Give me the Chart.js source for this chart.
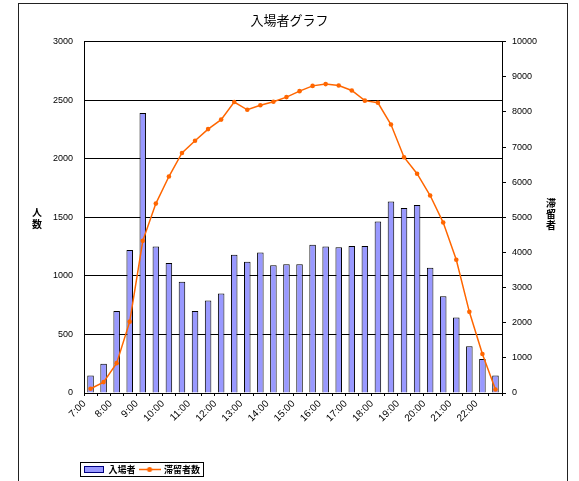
<!DOCTYPE html>
<html>
<head>
<meta charset="utf-8">
<script src="https://cdn.jsdelivr.net/npm/chart.js@4"></script>
<style>
  body { margin: 0; background: #fff; }
  #wrap { width: 579px; height: 481px; }
</style>
</head>
<body>
<div id="wrap"><canvas id="chart" width="579" height="481"></canvas></div>
<script>
// half-hour slots 7:00 .. 22:30
const timeLabels = ['7:00','7:30','8:00','8:30','9:00','9:30','10:00','10:30','11:00','11:30',
  '12:00','12:30','13:00','13:30','14:00','14:30','15:00','15:30','16:00','16:30',
  '17:00','17:30','18:00','18:30','19:00','19:30','20:00','20:30','21:00','21:30','22:00','22:30'];
const visitors = [150, 250, 700, 1220, 2390, 1250, 1110, 950, 700, 790,
  850, 1180, 1120, 1200, 1090, 1100, 1100, 1265, 1250, 1245,
  1255, 1255, 1465, 1635, 1580, 1605, 1070, 825, 645, 400, 290, 150];
const staying = [120, 310, 850, 2030, 4330, 5390, 6160, 6830, 7180, 7510,
  7780, 8280, 8060, 8190, 8290, 8420, 8590, 8740, 8790, 8750,
  8610, 8320, 8260, 7640, 6710, 6240, 5620, 4850, 3790, 2310, 1110, 100];
const leftTitle = ['人', '数'];
const rightTitle = ['滞', '留', '者'];

const numFont = { family: '"Liberation Sans", Arial, sans-serif', size: 9 };
const jpFont = '"Noto Sans CJK JP", sans-serif';

function makeIcon(w, h, draw) {
  const c = document.createElement('canvas');
  c.width = w; c.height = h;
  draw(c.getContext('2d'));
  return c;
}
const barIcon = makeIcon(20, 7, g => {
  g.fillStyle = '#9999ff'; g.fillRect(0.5, 0.5, 19, 6);
  g.strokeStyle = '#000080'; g.lineWidth = 1; g.strokeRect(0.5, 0.5, 19, 6);
});
const lineIcon = makeIcon(22, 7, g => {
  g.strokeStyle = '#ff6600'; g.lineWidth = 1.5;
  g.beginPath(); g.moveTo(0, 3.5); g.lineTo(22, 3.5); g.stroke();
  g.fillStyle = '#ff6600';
  g.beginPath(); g.arc(11, 3.5, 2.5, 0, Math.PI * 2); g.fill();
});

const extras = {
  id: 'extras',
  beforeDraw(chart) {
    const c = chart.ctx;
    c.save();
    c.fillStyle = '#fff';
    c.fillRect(0, 0, chart.width, chart.height);
    c.strokeStyle = '#222';
    c.lineWidth = 1;
    c.strokeRect(18.5, 3.5, 549, 500);
    c.restore();
  },
  afterLayout(chart) {
    const lg = chart.legend;
    const w = lg.right - lg.left;
    lg.left = 80;
    lg.right = 80 + w;
    lg.top += 3;
    lg.bottom += 3;
  },
  afterDraw(chart) {
    const c = chart.ctx;
    c.save();
    c.font = 'bold 10px ' + jpFont;
    c.fillStyle = '#000';
    c.textAlign = 'center';
    c.textBaseline = 'middle';
    leftTitle.forEach((ch, i) => c.fillText(ch, 37, 212 + i * 12));
    rightTitle.forEach((ch, i) => c.fillText(ch, 551, 203 + i * 11));
    const boxes = chart.legend.legendHitBoxes;
    if (boxes && boxes.length) {
      const first = boxes[0], last = boxes[boxes.length - 1];
      const x0 = Math.round(first.left) - 3.5;
      const x1 = Math.round(last.left + last.width) + 3.5;
      const y0 = Math.round(first.top) - 2.5;
      const y1 = Math.round(first.top + first.height) + 2.5;
      c.strokeStyle = '#000';
      c.strokeRect(x0, y0, x1 - x0, y1 - y0);
    }
    c.restore();
  }
};

new Chart(document.getElementById('chart').getContext('2d'), {
  type: 'bar',
  data: {
    labels: timeLabels,
    datasets: [{
      type: 'bar',
      label: '入場者',
      data: visitors,
      backgroundColor: '#9999ff',
      borderColor: '#000',
      borderWidth: 1,
      barPercentage: 0.5,
      categoryPercentage: 1,
      yAxisID: 'y',
      order: 1
    }, {
      type: 'line',
      label: '滞留者数',
      data: staying,
      borderColor: '#ff6600',
      borderWidth: 1.5,
      pointRadius: 2.3,
      pointBackgroundColor: '#ff6600',
      pointBorderWidth: 0,
      tension: 0,
      yAxisID: 'y1',
      order: 0
    }]
  },
  options: {
    responsive: false,
    animation: false,
    events: [],
    layout: { padding: { left: 0, right: 0, top: 0, bottom: 0 } },
    plugins: {
      tooltip: { enabled: false },
      title: {
        display: true,
        text: '入場者グラフ',
        color: '#000',
        font: { family: jpFont, size: 13, weight: 'normal' },
        padding: { top: 12, bottom: 14 }
      },
      legend: {
        position: 'bottom',
        align: 'start',
        labels: {
          color: '#000',
          font: { family: jpFont, size: 9, weight: 'bold' },
          usePointStyle: true,
          pointStyleWidth: 20,
          boxHeight: 7,
          padding: 4,
          sort: (a, b) => a.datasetIndex - b.datasetIndex,
          generateLabels(chart) {
            const items = Chart.defaults.plugins.legend.labels.generateLabels(chart);
            items.forEach(it => { it.pointStyle = it.datasetIndex === 0 ? barIcon : lineIcon; });
            return items;
          }
        }
      }
    },
    scales: {
      x: {
        offset: true,
        grid: { drawOnChartArea: false, tickLength: 3, color: '#000', offset: true },
        border: { color: '#000' },
        ticks: {
          autoSkip: false,
          maxRotation: 45,
          minRotation: 45,
          color: '#000',
          font: { family: numFont.family, size: 10 },
          padding: 2,
          labelOffset: -6,
          callback: (v, i) => (i % 2 === 0 ? timeLabels[i] : '')
        },
        afterFit: s => { s.height = 65; }
      },
      y: {
        position: 'left',
        min: 0,
        max: 3000,
        ticks: { stepSize: 500, color: '#000', font: numFont, padding: 11, callback: v => String(v) },
        grid: { color: '#000', drawTicks: false },
        border: { color: '#000' },
        afterFit: s => { s.width = 84; }
      },
      y1: {
        position: 'right',
        min: 0,
        max: 10000,
        ticks: { stepSize: 1000, color: '#000', font: numFont, padding: 6, callback: v => String(v) },
        grid: { drawOnChartArea: false, tickLength: 4, color: '#000' },
        border: { color: '#000' },
        afterFit: s => { s.width = 77; }
      }
    }
  },
  plugins: [extras]
});
</script>
</body>
</html>
